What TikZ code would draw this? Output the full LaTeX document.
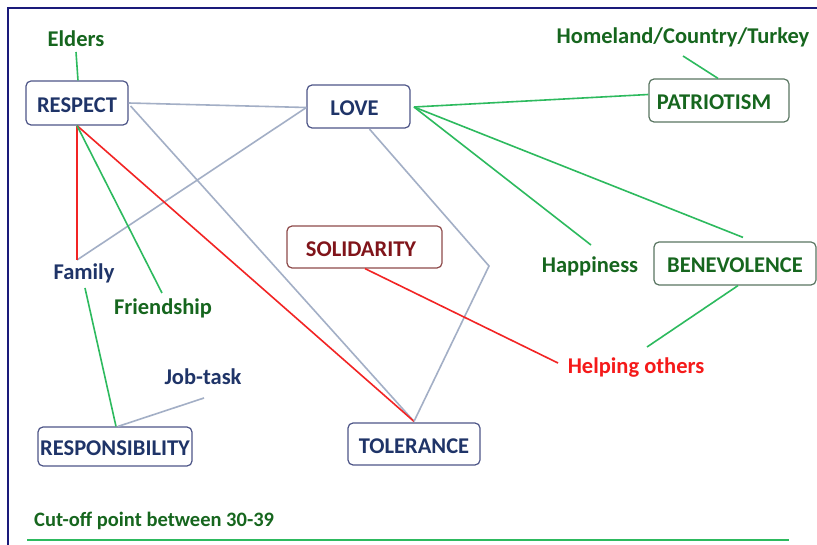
\documentclass[tikz,border=0pt]{standalone}
\usepackage{fontspec}
\setmainfont{Carlito}
\usetikzlibrary{calc}
\definecolor{navytxt}{HTML}{1F3468}
\definecolor{greentxt}{HTML}{16661E}
\definecolor{redtxt}{HTML}{F51A1A}
\definecolor{darkred}{HTML}{80141A}
\definecolor{grayline}{HTML}{A3AFC6}
\definecolor{greenline}{HTML}{2DBA5E}
\definecolor{redline}{HTML}{F22424}
\definecolor{navybox}{HTML}{4E5688}
\definecolor{greenbox}{HTML}{5A7662}
\definecolor{redbox}{HTML}{8E4A4A}
\definecolor{framecol}{HTML}{1A1A7A}
\tikzset{
  x=1pt,y=-1pt,
  box/.style={draw,rounded corners=5pt,line width=1.2pt,fill=white,font=\bfseries\fontsize{22.5}{24}\selectfont,inner sep=0pt,text height=18.5pt,text depth=0pt},
  navyb/.style={box,draw=navybox,text=navytxt},
  greenb/.style={box,draw=greenbox,text=greentxt},
  redb/.style={box,draw=redbox,text=darkred},
  lbl/.style={font=\bfseries\fontsize{22.5}{24}\selectfont,inner sep=1pt},
  gl/.style={draw=grayline,line width=1.6pt},
  grl/.style={draw=greenline,line width=1.6pt},
  rl/.style={draw=redline,line width=1.6pt},
}
\begin{document}
\begin{tikzpicture}
\useasboundingbox (0,0) rectangle (817,545);
\fill[white] (0,0) rectangle (817,545);
% frame
\draw[framecol,line width=1.8pt] (8,545) -- (8,8) -- (817,8);

% boxes
\node[navyb,minimum width=102pt,minimum height=44pt] (respect) at (77,103) {RESPECT};
\node[navyb,minimum width=103pt,minimum height=43pt] (love) at (358.5,106.5) {\hspace*{-8pt}LOVE};
\node[greenb,minimum width=140pt,minimum height=43pt] (patriot) at (719,100.5) {PATRIOTISM\hspace*{10pt}};
\node[greenb,minimum width=162pt,minimum height=43pt] (benev) at (735,263.5) {BENEVOLENCE};
\node[redb,minimum width=155pt,minimum height=42pt] (solid) at (364.5,247) {SOLIDARITY\hspace*{7pt}};
\node[navyb,minimum width=154pt,minimum height=39pt] (resp) at (115,446.5) {RESPONSIBILITY};
\node[navyb,minimum width=132pt,minimum height=42pt] (toler) at (414,444) {TOLERANCE};

% labels
\node[lbl,text=greentxt] (elders) at (76,39) {Elders};
\node[lbl,text=greentxt] (homeland) at (683,37) {Homeland/Country/Turkey};
\node[lbl,text=greentxt] (happy) at (590,266) {Happiness};
\node[lbl,text=navytxt] (family) at (84,273) {Family};
\node[lbl,text=greentxt] (friend) at (163,308) {Friendship};
\node[lbl,text=navytxt] (job) at (203,377) {Job-task};
\node[lbl,text=redtxt] (helping) at (636,368) {Helping others};
\node[lbl,text=greentxt,anchor=west,font=\bfseries\fontsize{20.5}{22}\selectfont] (cutoff) at (33,521) {Cut-off point between 30-39};

% helper coordinates
\coordinate (famtop) at (77,260);
\coordinate (lovehub) at (414,107);
\coordinate (bend) at (489,266);
\coordinate (lovebot) at ($(love.south)+(11,0.5)$);
\coordinate (respe) at ($(respect.east)+(2,3)$);
\coordinate (tolt) at ($(toler.north)+(0,-1)$);
\coordinate (cutl) at (27,540);
\coordinate (cutr) at (789,540);

% connectors
\draw[grl] (76,52) -- ($(respect.north)+(1,0)$);
\draw[gl] (respect.east) -- ($(love.west)+(0,1)$);
\draw[gl] (respe) -- (tolt);
\draw[gl] (famtop) -- ($(love.west)+(0,1)$);
\draw[rl] (respect.south) -- (tolt);
\draw[rl] (respect.south) -- (famtop);
\draw[grl] (respect.south) -- (162,293);
\draw[gl] (lovebot) -- (bend) -- (tolt);
\draw[grl] (lovehub) -- ($(patriot.west)+(0,-6)$);
\draw[grl] (lovehub) -- (591,245);
\draw[grl] (lovehub) -- ($(benev.north)+(8,-4)$);
\draw[grl] ($(benev.south)+(3,0)$) -- (647,347);
\draw[grl] (683,56) -- ($(patriot.north)+(-1,0)$);
\draw[rl] ($(solid.south)+(0.5,0)$) -- (558,363);
\draw[grl] (85,288) -- ($(resp.north)+(1,0)$);
\draw[gl] ($(resp.north)+(3,0)$) -- (204,398);
\draw[grl] (cutl) -- (cutr);
\end{tikzpicture}
\end{document}
